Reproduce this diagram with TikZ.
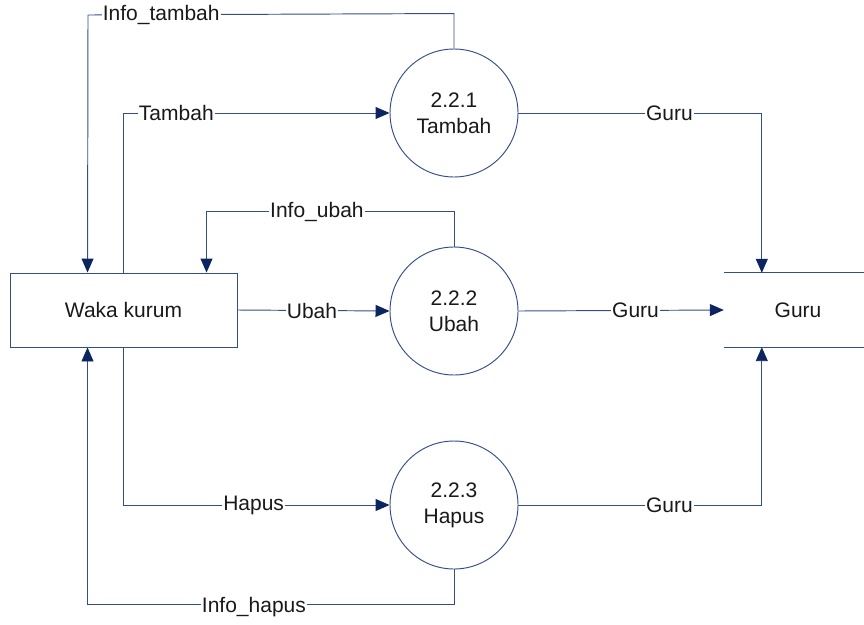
\documentclass[tikz,border=0pt]{standalone}
\usepackage{fontspec}
\setmainfont{Liberation Sans}
\usetikzlibrary{arrows.meta}
\definecolor{linec}{RGB}{52,78,140}
\definecolor{tipc}{RGB}{12,36,96}
\definecolor{txtc}{RGB}{25,25,25}
\begin{document}
\begin{tikzpicture}[x=1pt,y=-1pt,
  every node/.style={font=\fontsize{21}{26}\selectfont, text=txtc},
  flow/.style={draw=linec, line width=0.95pt,
    -{Triangle[length=14pt,width=12pt,fill=tipc,color=tipc]}},
  lbl/.style={fill=white, inner sep=1pt},
  entity/.style={draw=linec, line width=0.95pt, minimum width=227pt, minimum height=74pt},
  proc/.style={draw=linec, line width=0.95pt, circle, minimum size=128pt, align=center, inner sep=0pt},
  storebox/.style={minimum width=140pt, minimum height=74pt}]
\useasboundingbox (0,0) rectangle (864,624);

% external entity, processes and data store
\node[entity] (wk) at (123.5,310) {Waka kurum};
\node[proc] (p1) at (454,113) {2.2.1\\Tambah};
\node[proc] (p2) at (454,311) {2.2.2\\Ubah};
\node[proc] (p3) at (454,505) {2.2.3\\Hapus};
\node[storebox] (guru) at (794,310) {\hspace{8pt}Guru};
\draw[draw=linec, line width=0.95pt] (guru.north west) -- (guru.north east);
\draw[draw=linec, line width=0.95pt] (guru.south west) -- (guru.south east);

% flows between entity and processes
\draw[flow] (p1.north) -- ++(0,-35) -- node[lbl,pos=0.8]{Info\_tambah} (88,15) -- ([xshift=78pt]wk.north west);
\draw[flow] ([xshift=113.5pt]wk.north west) |- node[lbl,pos=0.6]{Tambah} (p1.west);
\draw[flow] (p2.north) -- ++(0,-35) -| node[lbl,pos=0.277]{Info\_ubah} ([xshift=197pt]wk.north west);
\draw[flow] (wk.east) -- node[lbl,pos=0.49]{Ubah} (p2.west);
\draw[flow] ([xshift=113.5pt]wk.south west) |- node[lbl,pos=0.745]{Hapus} (p3.west);
\draw[flow] (p3.south) -- ++(0,35) -| node[lbl,pos=0.273,yshift=-3pt]{Info\_hapus} ([xshift=78pt]wk.south west);

% flows into the data store
\draw[flow] (p1.east) -| node[lbl,pos=0.31]{Guru} ([xshift=38pt]guru.north west);
\draw[flow] (p2.east) -- node[lbl,pos=0.57]{Guru} (guru.west);
\draw[flow] (p3.east) -| node[lbl,pos=0.31]{Guru} ([xshift=38pt]guru.south west);
\end{tikzpicture}
\end{document}
